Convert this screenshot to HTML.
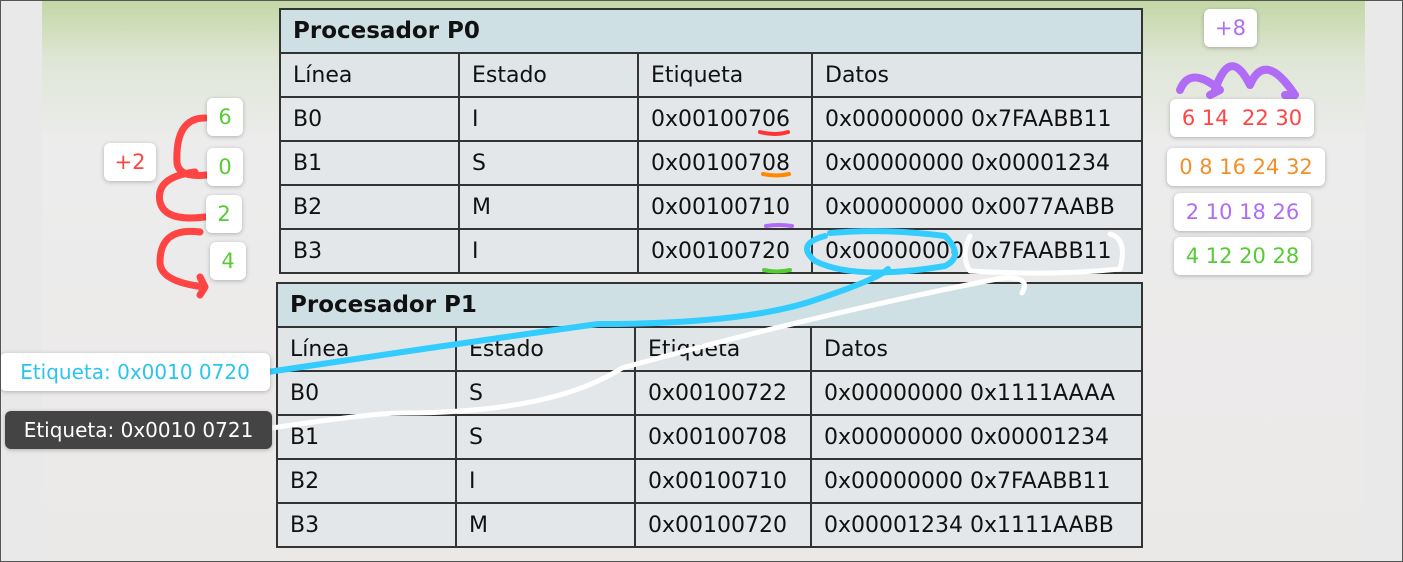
<!DOCTYPE html>
<html><head><meta charset="utf-8"><style>
body{margin:0;width:1403px;height:562px;overflow:hidden;background:#e9e9e9;font-family:"DejaVu Sans","Liberation Sans",sans-serif;position:relative}
.slide{position:absolute;left:42px;top:0;width:1323px;height:562px;background:linear-gradient(180deg,#c3d7a5 0px,#dfe6d6 60px,#ececec 140px,#ebe9e8 100%)}
.frame{position:absolute;left:0;top:0;width:1401px;height:560px;border:1px solid #555;pointer-events:none}
table{position:absolute;border-collapse:collapse;font-size:22px;color:#111;table-layout:fixed}
td{border:2px solid #333;padding:0 12px;height:42px;box-sizing:border-box;background:#e3e7e9;white-space:nowrap}
tr{height:44px}
td.h{background:#cfe0e5;font-weight:bold;font-size:23px}
tr.c td{background:#e0e5e8}
.tag{position:absolute;background:#fff;border-radius:6px;box-shadow:0 1px 4px rgba(0,0,0,.25);font-size:21px;text-align:center;line-height:38px;height:38px}
</style></head><body>
<div class="slide"></div>
<table style="left:279px;top:8px;width:862px">
<colgroup><col style="width:179px"><col style="width:179px"><col style="width:174px"><col style="width:330px"></colgroup>
<tr><td class="h" colspan="4">Procesador P0</td></tr>
<tr class="c"><td>Línea</td><td>Estado</td><td>Etiqueta</td><td>Datos</td></tr>
<tr><td>B0</td><td>I</td><td>0x00100706</td><td>0x00000000 0x7FAABB11</td></tr>
<tr><td>B1</td><td>S</td><td>0x00100708</td><td>0x00000000 0x00001234</td></tr>
<tr><td>B2</td><td>M</td><td>0x00100710</td><td>0x00000000 0x0077AABB</td></tr>
<tr><td>B3</td><td>I</td><td>0x00100720</td><td>0x00000000 0x7FAABB11</td></tr>
</table>
<table style="left:276px;top:282px;width:865px">
<colgroup><col style="width:179px"><col style="width:179px"><col style="width:176px"><col style="width:331px"></colgroup>
<tr><td class="h" colspan="4">Procesador P1</td></tr>
<tr class="c"><td>Línea</td><td>Estado</td><td>Etiqueta</td><td>Datos</td></tr>
<tr><td>B0</td><td>S</td><td>0x00100722</td><td>0x00000000 0x1111AAAA</td></tr>
<tr><td>B1</td><td>S</td><td>0x00100708</td><td>0x00000000 0x00001234</td></tr>
<tr><td>B2</td><td>I</td><td>0x00100710</td><td>0x00000000 0x7FAABB11</td></tr>
<tr><td>B3</td><td>M</td><td>0x00100720</td><td>0x00001234 0x1111AABB</td></tr>
</table>
<svg width="1403" height="562" style="position:absolute;left:0;top:0" fill="none" stroke-linecap="round" stroke-linejoin="round">
<path d="M760 132 q15 4 28 0" stroke="#f33" stroke-width="4"/>
<path d="M763 174 q14 3 26 0" stroke="#f80" stroke-width="4"/>
<path d="M766 226 q12 -2 26 0" stroke="#b06cf5" stroke-width="4"/>
<path d="M764 270 q12 3 26 0" stroke="#5c3" stroke-width="4"/>
<path d="M205 118 q-30 0 -28 45 q2 15 30 12 M195 172 q-40 5 -35 30 q5 20 45 15 M200 232 q-40 -5 -40 30 q0 20 45 25 l-5 8 M205 287 l-5 -10" stroke="#f44" stroke-width="7"/>
<path d="M1180 90 q10 -25 40 0 l-10 5 M1215 90 q15 -45 35 -5 M1250 85 q15 -35 45 10 l-10 0" stroke="#b06cf5" stroke-width="8"/>
<path d="M268 372 q200 -30 330 -48 q150 0 220 -25 q60 -20 70 -30 M825 236 q-30 8 -10 25 q40 20 130 5 q20 -10 0 -30 q-60 -8 -115 -3" stroke="#3cf" stroke-width="6"/>
<path d="M272 428 q100 -15 130 -15 q150 0 220 -45 q200 -55 380 -90 q30 -2 20 15 M970 236 q-10 20 0 35 q80 5 150 -2 q8 -30 -10 -35" stroke="#fff" stroke-width="5"/>
</svg>
<div class="tag" style="left:207px;top:98px;width:36px;color:#5c3">6</div>
<div class="tag" style="left:104px;top:143px;width:52px;color:#f44">+2</div>
<div class="tag" style="left:207px;top:148px;width:36px;color:#5c3">0</div>
<div class="tag" style="left:206px;top:195px;width:36px;color:#5c3">2</div>
<div class="tag" style="left:210px;top:242px;width:36px;color:#5c3">4</div>
<div class="tag" style="left:1204px;top:9px;width:53px;color:#b06cf5">+8</div>
<div class="tag" style="left:1170px;top:99px;width:144px;color:#f44">6 14&nbsp; 22 30</div>
<div class="tag" style="left:1167px;top:148px;width:158px;color:#f0902a">0 8 16 24 32</div>
<div class="tag" style="left:1174px;top:193px;width:137px;color:#b06cf5">2 10 18 26</div>
<div class="tag" style="left:1174px;top:237px;width:137px;color:#5c3">4 12 20 28</div>
<div class="tag" style="left:0;top:353px;width:270px;color:#2bc4f0;font-size:20px">Etiqueta: 0x0010 0720</div>
<div class="tag" style="left:5px;top:411px;width:267px;color:#fff;background:#444;font-size:20px">Etiqueta: 0x0010 0721</div>
<div class="frame"></div>
</body></html>
